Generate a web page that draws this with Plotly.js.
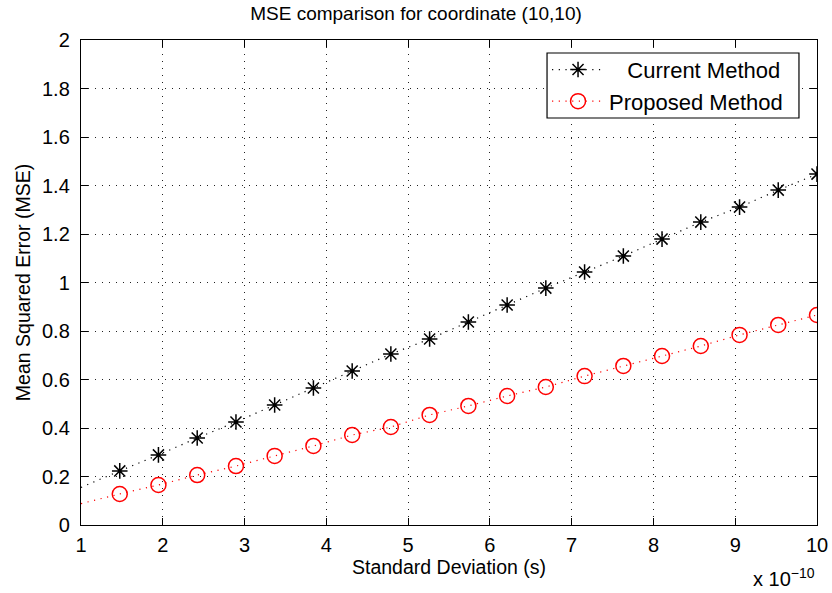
<!DOCTYPE html>
<html>
<head>
<meta charset="utf-8">
<script src="https://cdn.plot.ly/plotly-3.0.1.min.js"></script>
<style>html,body{margin:0;padding:0;background:#fff;}#chart{width:832px;height:593px;}</style>
</head>
<body>
<div id="chart"></div>
<script>
// Standard deviation in units of 1e-10 s (20 samples from 1 to 10)
var stdDev = [1.000, 1.474, 1.947, 2.421, 2.895, 3.368, 3.842, 4.316, 4.789, 5.263,
              5.737, 6.211, 6.684, 7.158, 7.632, 8.105, 8.579, 9.053, 9.526, 10.000];
var currentMSE = [0.155, 0.223, 0.289, 0.359, 0.425, 0.495, 0.565, 0.635, 0.705, 0.767,
                  0.837, 0.907, 0.977, 1.043, 1.109, 1.179, 1.249, 1.311, 1.381, 1.447];
var proposedMSE = [0.088, 0.128, 0.165, 0.206, 0.243, 0.285, 0.326, 0.371, 0.404, 0.454,
                   0.491, 0.532, 0.569, 0.614, 0.656, 0.697, 0.738, 0.784, 0.825, 0.866];
var seriesNames = ["Current Method", "Proposed Method"];
var yTicks = [0, 0.2, 0.4, 0.6, 0.8, 1, 1.2, 1.4, 1.6, 1.8, 2];
var yTickText = ["0", "0.2", "0.4", "0.6", "0.8", "1", "1.2", "1.4", "1.6", "1.8", "2"];
var xTicks = [1, 2, 3, 4, 5, 6, 7, 8, 9, 10];

var FONT = "Liberation Sans, Arial, sans-serif";
var NB = "\u00a0\u00a0\u00a0";

var traces = [
  // lines-only leading segments (first sample has no marker)
  {x: stdDev.slice(0, 2), y: currentMSE.slice(0, 2), mode: "lines", showlegend: false,
   line: {color: "black", dash: "1.2px,5.5px", width: 1.2}, hoverinfo: "skip"},
  {x: stdDev.slice(0, 2), y: proposedMSE.slice(0, 2), mode: "lines", showlegend: false,
   line: {color: "red", dash: "1.2px,5.5px", width: 1.2}, hoverinfo: "skip"},
  {x: stdDev.slice(1), y: currentMSE.slice(1), mode: "lines+markers", name: NB + seriesNames[0],
   line: {color: "black", dash: "1.2px,5.5px", width: 1.2},
   marker: {symbol: "asterisk-open", size: 13, color: "black", line: {color: "black", width: 1.5}}},
  {x: stdDev.slice(1), y: proposedMSE.slice(1), mode: "lines+markers", name: seriesNames[1],
   line: {color: "red", dash: "1.2px,5.5px", width: 1.2},
   marker: {symbol: "circle-open", size: 15, color: "red", line: {color: "red", width: 1.5}}}
];

var axisCommon = {
  showline: true, mirror: "ticks", linecolor: "black", linewidth: 1.2,
  ticks: "inside", ticklen: 7, tickcolor: "black", tickwidth: 1,
  showgrid: true, gridcolor: "#222", griddash: "1px,6px", gridwidth: 1,
  zeroline: false, tickfont: {family: FONT, size: 20, color: "black"}
};

var layout = {
  width: 832, height: 593,
  margin: {l: 81, r: 15, t: 40, b: 68},
  paper_bgcolor: "white", plot_bgcolor: "white",
  font: {family: FONT, color: "black"},
  title: {text: "MSE comparison for coordinate (10,10)", font: {family: FONT, size: 19, color: "black"},
          x: 0.5, xanchor: "center", y: 0.988, yanchor: "top"},
  xaxis: Object.assign({}, axisCommon, {
    range: [1, 10], tickvals: xTicks, ticklabelstandoff: 2,
    title: {text: "Standard Deviation (s)", font: {family: FONT, size: 19.5, color: "black"}, standoff: 2}
  }),
  yaxis: Object.assign({}, axisCommon, {
    range: [0, 2], tickvals: yTicks, ticktext: yTickText, ticklabelstandoff: 6,
    title: {text: "Mean Squared Error (MSE)", font: {family: FONT, size: 19.5, color: "black"}, standoff: 6}
  }),
  shapes: [{
    type: "rect", xref: "paper", yref: "paper", layer: "above",
    x0: 0.6332, x1: 0.9755, y0: 0.8392, y1: 0.9732,
    fillcolor: "white", line: {color: "black", width: 1.2}
  }],
  legend: {x: 0.6332, xanchor: "left", y: 0.982, yanchor: "top",
           bgcolor: "rgba(0,0,0,0)", borderwidth: 0,
           itemwidth: 52,
           font: {family: FONT, size: 22, color: "black"}, tracegroupgap: 0},
  annotations: [{
    text: "x 10<sup>\u221210</sup>", xref: "paper", yref: "paper", x: 1.0, xanchor: "right",
    y: -0.078, yanchor: "top", showarrow: false, font: {family: FONT, size: 20, color: "black"}
  }]
};

Plotly.newPlot("chart", traces, layout, {displayModeBar: false, staticPlot: true});
</script>
</body>
</html>
